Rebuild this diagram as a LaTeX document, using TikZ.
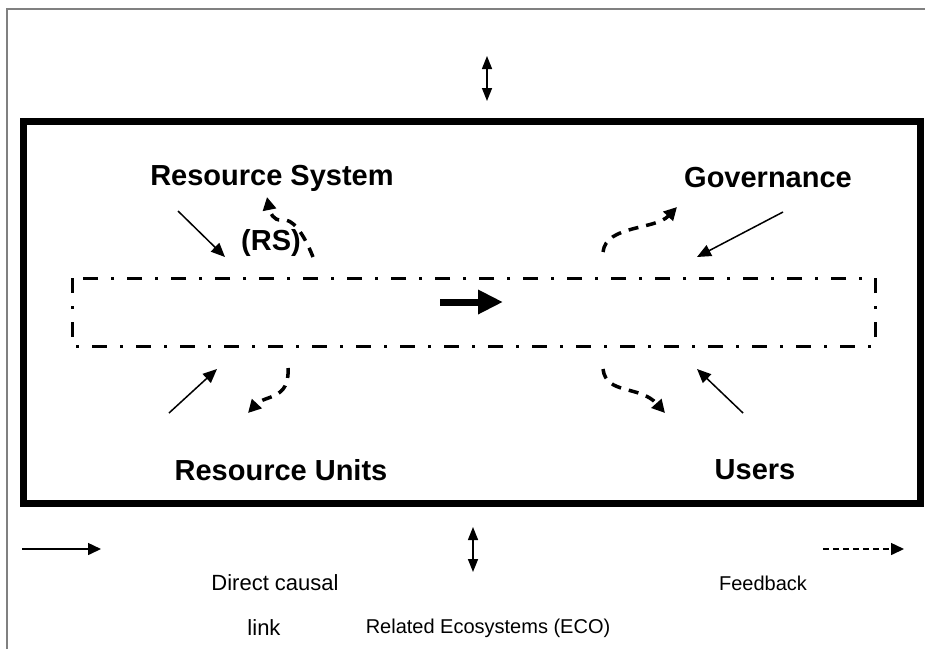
\documentclass[tikz,border=0pt]{standalone}
\usepackage{fontspec}
\setmainfont{Liberation Sans}
\usetikzlibrary{arrows.meta}
\begin{document}
\begin{tikzpicture}[x=1pt,y=-1pt,
  title/.style={font=\fontsize{29}{32}\selectfont\bfseries, inner sep=0pt},
  legend/.style={font=\fontsize{20}{23}\selectfont, inner sep=0pt},
  causal/.style={line width=1.5pt, -{Triangle[length=14pt,width=12pt]}},
  feedback/.style={line width=3.5pt, dash pattern=on 10pt off 8pt, -{Triangle[length=13pt,width=13pt]}},
  twoway/.style={line width=1.5pt, {Triangle[length=13pt,width=10pt]}-{Triangle[length=13pt,width=10pt]}},
  frameline/.style={draw=black!50, line width=1.5pt},
  system/.style={line width=7pt},
  interaction/.style={line width=3pt, dash pattern=on 15pt off 13pt on 3pt off 13pt},
]
\useasboundingbox (0,0) rectangle (925,649);

% outer page frame
\draw[frameline] (7,649) -- (7,9) -- (925,9);

% social-ecological system box
\draw[system] (23.5,121.5) rectangle (920,503);

% interaction band
\draw[interaction] (72,278) rectangle (875,346);

% flow arrow inside the band
\coordinate (flowA) at (440,302);
\coordinate (flowB) at (503,302);
\draw[line width=7pt, -{Triangle[length=25pt,width=23pt]}] (flowA) -- (flowB);

% subsystem labels
\node[title] (rs)   at (272,178) {Resource System};
\node[title] (rsab) at (271,243) {(RS)};
\node[title] (gov)  at (768,178) {Governance};
\node[title] (ru)   at (281,470) {Resource Units};
\node[title] (us)   at (755,470) {Users};

% direct causal links into the band
\coordinate (c1s) at (178,211); \coordinate (c1e) at (225,257);
\coordinate (c2s) at (783,212); \coordinate (c2e) at (697,257);
\coordinate (c3s) at (169,413); \coordinate (c3e) at (217,369);
\coordinate (c4s) at (743,413); \coordinate (c4e) at (697,369);
\draw[causal] (c1s) -- (c1e);
\draw[causal] (c2s) -- (c2e);
\draw[causal] (c3s) -- (c3e);
\draw[causal] (c4s) -- (c4e);

% feedback from the band
\coordinate (f1s) at (313,257); \coordinate (f1m) at (282,220); \coordinate (f1e) at (267,197);
\coordinate (f2s) at (603,252); \coordinate (f2e) at (677,207);
\coordinate (f3s) at (288,368); \coordinate (f3e) at (248,413);
\coordinate (f4s) at (603,369); \coordinate (f4e) at (665,413);
\draw[feedback] (f1s) .. controls (303,232) and (292,218) .. (f1m) .. controls (273,221) and (270,212) .. (f1e);
\draw[feedback] (f2s) .. controls (606,225) and (655,230) .. (f2e);
\draw[feedback] (f3s) .. controls (290,400) and (265,395) .. (f3e);
\draw[feedback] (f4s) .. controls (606,395) and (640,385) .. (f4e);

% links to related ecosystems
\coordinate (t1) at (487,56);  \coordinate (t2) at (487,101);
\coordinate (b1) at (473,527); \coordinate (b2) at (473,572);
\draw[twoway] (t1) -- (t2);
\draw[twoway] (b1) -- (b2);

% legend
\coordinate (l1s) at (22,549);  \coordinate (l1e) at (101,549);
\coordinate (l2s) at (823,549); \coordinate (l2e) at (904,549);
\draw[line width=1.5pt, -{Triangle[length=13pt,width=12pt]}] (l1s) -- (l1e);
\draw[line width=1.5pt, dash pattern=on 6pt off 4pt, -{Triangle[length=13pt,width=12pt]}] (l2s) -- (l2e);
\node[legend, font=\fontsize{22}{25}\selectfont] (dcl)  at (275,583) {Direct causal};
\node[legend, font=\fontsize{22}{25}\selectfont] (link) at (264,628) {link};
\node[legend] (eco)  at (488,628) {Related Ecosystems (ECO)};
\node[legend] (fb)   at (763,583) {Feedback};
\end{tikzpicture}
\end{document}
